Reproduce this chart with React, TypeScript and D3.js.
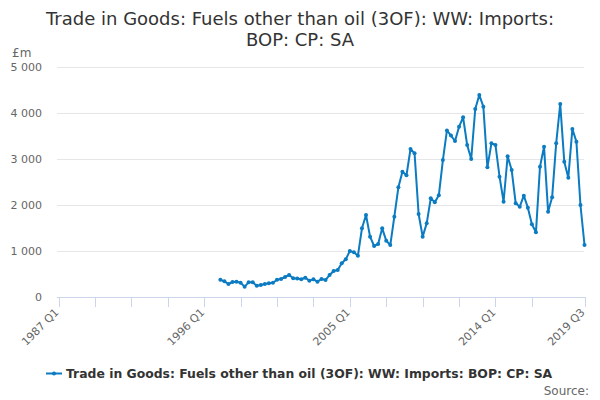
import React, { useEffect, useRef } from 'react';
import * as d3 from 'd3';

// Quarterly categories, 1987 Q1 .. 2019 Q3
const startYear = 1987;
const quarterCount = 131;
const categories: string[] = [];
for (let i = 0; i < quarterCount; i++) {
  categories.push(`${startYear + Math.floor(i / 4)} Q${(i % 4) + 1}`);
}

// Series starts at 1997 Q1
const seriesStart = '1997 Q1';
const imports = [
  376, 341, 283, 326, 333, 311, 225, 318, 318, 246,
  261, 283, 297, 311, 376, 391, 435, 478, 406, 400,
  385, 420, 355, 384, 333, 391, 370, 478, 565, 587,
  732, 819, 1000, 971, 898, 1493, 1783, 1312, 1109, 1152,
  1493, 1225, 1130, 1746, 2384, 2725, 2645, 3217, 3123, 1804,
  1312, 1601, 2145, 2060, 2210, 2978, 3620, 3510, 3391, 3703,
  3906, 3304, 3000, 4087, 4391, 4138, 2819, 3341, 3304, 2616,
  2072, 3060, 2760, 2036, 1963, 2203, 1942, 1580, 1406, 2833,
  3268, 1855, 2167, 3341, 4196, 2942, 2594, 3652, 3377, 2000,
  1130,
];

const tickLabels = ['1987 Q1', '1996 Q1', '2005 Q1', '2014 Q1', '2019 Q3'];
const tickMarks = ['1987 Q1', '1989 Q2', '1991 Q3', '1993 Q4', '1996 Q1', '1998 Q2', '2000 Q3',
  '2002 Q4', '2005 Q1', '2007 Q2', '2009 Q3', '2011 Q4', '2014 Q1', '2016 Q2', '2019 Q3'];
const yTicks = [0, 1000, 2000, 3000, 4000, 5000];

const title = ['Trade in Goods: Fuels other than oil (3OF): WW: Imports:', 'BOP: CP: SA'];
const seriesName = 'Trade in Goods: Fuels other than oil (3OF): WW: Imports: BOP: CP: SA';

const width = 600;
const height = 400;
const lineColor = '#0b7bc2';
const font = 'DejaVu Sans, sans-serif';

const App: React.FC = () => {
  const svgRef = useRef<SVGSVGElement>(null);

  useEffect(() => {
    if (!svgRef.current) return;
    const svg = d3.select(svgRef.current);
    svg.selectAll('*').remove();

    const xScale = d3.scaleLinear().domain([0, quarterCount - 1]).range([58.5, 584.5]);
    const yScale = d3.scaleLinear().domain([0, 5000]).range([297, 67]);
    const offset = categories.indexOf(seriesStart);
    const points = imports.map((v, i) => ({ idx: offset + i, value: v }));

    // Title
    svg.append('text')
      .attr('x', width / 2)
      .attr('text-anchor', 'middle')
      .attr('font-family', font)
      .attr('font-size', '18px')
      .attr('fill', '#333333')
      .selectAll('tspan')
      .data(title)
      .join('tspan')
      .attr('x', width / 2)
      .attr('y', (_, i) => 25 + i * 21)
      .text(d => d);

    // Unit label
    svg.append('text')
      .attr('x', 12)
      .attr('y', 57)
      .attr('font-family', font)
      .attr('font-size', '12px')
      .attr('fill', '#666666')
      .text('£m');

    // Grid lines + y labels
    const grid = svg.append('g');
    grid.selectAll('line')
      .data(yTicks.filter(t => t > 0))
      .join('line')
      .attr('x1', 57)
      .attr('x2', 584)
      .attr('y1', d => Math.round(yScale(d)) + 0.5)
      .attr('y2', d => Math.round(yScale(d)) + 0.5)
      .attr('stroke', '#e6e6e6');

    grid.selectAll('text')
      .data(yTicks)
      .join('text')
      .attr('x', 42)
      .attr('y', d => yScale(d) + 4)
      .attr('text-anchor', 'end')
      .attr('font-family', font)
      .attr('font-size', '11px')
      .attr('fill', '#666666')
      .text(d => d3.format(',')(d).replace(/,/g, ' '));

    // X axis
    const xAxis = svg.append('g');
    xAxis.append('line')
      .attr('x1', 57)
      .attr('x2', 585)
      .attr('y1', 297.5)
      .attr('y2', 297.5)
      .attr('stroke', '#ccd6eb');

    xAxis.selectAll('line.tick')
      .data(tickMarks)
      .join('line')
      .attr('class', 'tick')
      .attr('x1', d => Math.round(xScale(categories.indexOf(d))) + 0.5)
      .attr('x2', d => Math.round(xScale(categories.indexOf(d))) + 0.5)
      .attr('y1', 297)
      .attr('y2', 307)
      .attr('stroke', '#ccd6eb');

    xAxis.selectAll('text')
      .data(tickLabels)
      .join('text')
      .attr('transform', d => `translate(${xScale(categories.indexOf(d)) + 1},${313}) rotate(-45)`)
      .attr('text-anchor', 'end')
      .attr('font-family', font)
      .attr('font-size', '11px')
      .attr('fill', '#666666')
      .text(d => d);

    // Series line
    const line = d3.line<{ idx: number; value: number }>()
      .x(d => xScale(d.idx))
      .y(d => yScale(d.value));

    svg.append('path')
      .datum(points)
      .attr('fill', 'none')
      .attr('stroke', lineColor)
      .attr('stroke-width', 2)
      .attr('stroke-linejoin', 'round')
      .attr('d', line);

    svg.append('g')
      .selectAll('circle')
      .data(points)
      .join('circle')
      .attr('cx', d => xScale(d.idx))
      .attr('cy', d => yScale(d.value))
      .attr('r', 2)
      .attr('fill', lineColor);

    // Legend
    const legend = svg.append('g').attr('transform', 'translate(46,373)');
    legend.append('line')
      .attr('x1', 0)
      .attr('x2', 16)
      .attr('y1', 0.5)
      .attr('y2', 0.5)
      .attr('stroke', lineColor)
      .attr('stroke-width', 2);
    legend.append('circle')
      .attr('cx', 8)
      .attr('cy', 0.5)
      .attr('r', 2)
      .attr('fill', lineColor);
    legend.append('text')
      .attr('x', 20)
      .attr('y', 5)
      .attr('font-family', font)
      .attr('font-size', '12.4px')
      .attr('font-weight', 'bold')
      .attr('fill', '#333333')
      .text(seriesName);

    // Credits
    svg.append('text')
      .attr('x', 589)
      .attr('y', 395)
      .attr('text-anchor', 'end')
      .attr('font-family', font)
      .attr('font-size', '12px')
      .attr('fill', '#666666')
      .text('Source:');
  }, []);

  return (
    <svg
      ref={svgRef}
      width={width}
      height={height}
      style={{ position: 'absolute', left: 0, top: 0, background: '#ffffff' }}
    />
  );
};

export default App;
